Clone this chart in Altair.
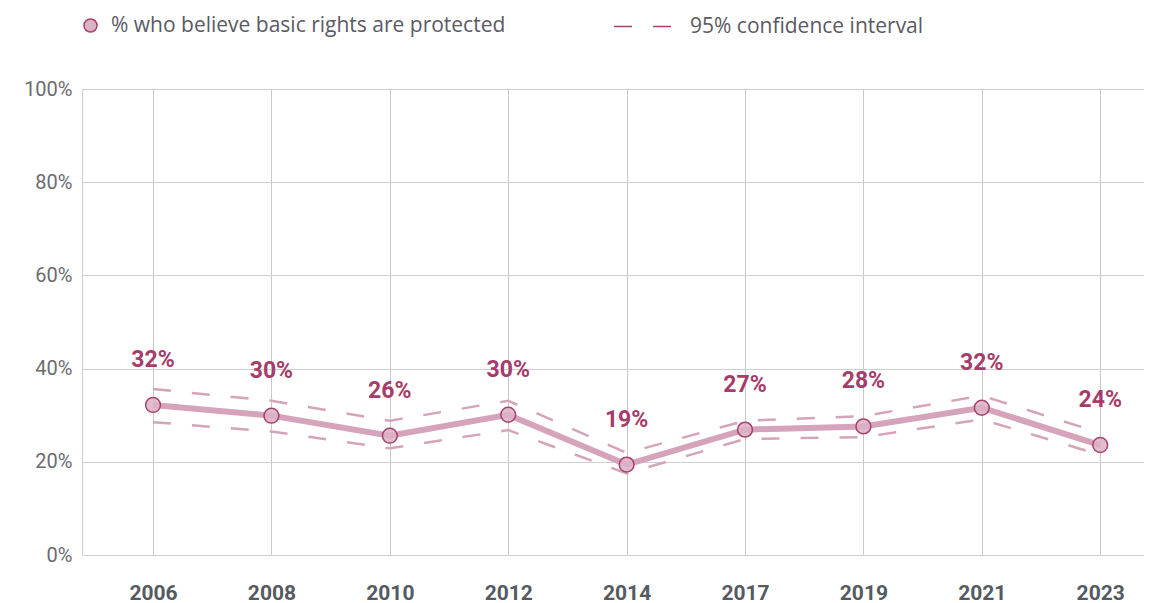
import json
import altair as alt
import pandas as pd

years = ["2006", "2008", "2010", "2012", "2014", "2017", "2019", "2021", "2023"]
share = [32.2, 29.9, 25.6, 30.1, 19.4, 26.9, 27.6, 31.6, 23.6]
ci_upper = [35.6, 33.1, 28.8, 33.1, 21.9, 28.8, 29.8, 34.2, 26.2]
ci_lower = [28.5, 26.5, 22.9, 26.8, 17.5, 24.9, 25.3, 29.1, 21.5]
y_ticks = [0, 20, 40, 60, 80, 100]

SERIES = "% who believe basic rights are protected"
CI = "95% confidence interval"

n = len(years)
main = pd.DataFrame({"idx": list(range(n)), "year": years, "value": share, "series": SERIES})
ci = pd.DataFrame({
    "idx": list(range(n)) * 2,
    "value": ci_upper + ci_lower,
    "bound": ["upper"] * n + ["lower"] * n,
    "series": CI,
})

FONT = "Roboto"
LEG_FONT = "Open Sans"
LINE_C = "#d5a3ba"
DARK_C = "#a8416f"

x_enc = alt.X(
    "idx:Q",
    scale=alt.Scale(domain=[-0.6, 8.37], nice=False, zero=False),
    axis=alt.Axis(
        values=list(range(n)),
        labelExpr=f"{json.dumps(years)}[datum.value]",
        title=None,
        grid=True,
        gridColor="#c8c8c8",
        domain=False,
        ticks=False,
        labelFont=FONT,
        labelFontSize=21,
        labelFontWeight="bold",
        labelColor="#555a62",
        labelPadding=27,
    ),
)
y_enc = alt.Y(
    "value:Q",
    scale=alt.Scale(domain=[0, 100], nice=False),
    axis=alt.Axis(
        values=y_ticks,
        labelExpr="datum.value + '%'",
        title=None,
        grid=True,
        gridColor="#cfcfcf",
        domain=True,
        domainColor="#cfcfcf",
        ticks=False,
        labelFont=FONT,
        labelFontSize=20,
        labelColor="#6b6b70",
        labelPadding=10,
    ),
)

ci_lines = alt.Chart(ci).mark_line(strokeWidth=2.5, color=LINE_C).encode(
    x=x_enc,
    y=y_enc,
    detail="bound:N",
    strokeDash=alt.StrokeDash(
        "series:N",
        scale=alt.Scale(domain=[CI], range=[[18, 21]]),
        legend=alt.Legend(
            title=None,
            orient="none",
            legendX=531,
            legendY=-93,
            symbolType="stroke",
            symbolSize=3481,
            symbolStrokeColor=DARK_C,
            symbolStrokeWidth=1.5,
            labelFont=LEG_FONT,
            labelFontSize=21,
            labelColor="#5a5a64",
            labelLimit=600,
            labelOffset=16,
        ),
    ),
)

line = alt.Chart(main).mark_line(strokeWidth=6, color=LINE_C).encode(x="idx:Q", y="value:Q")

points = alt.Chart(main).mark_point(
    shape="circle", filled=True, size=220, stroke=DARK_C, strokeWidth=1.5, fillOpacity=0.85
).encode(
    x="idx:Q",
    y="value:Q",
    fill=alt.Fill(
        "series:N",
        scale=alt.Scale(domain=[SERIES], range=["#dcb3c5"]),
        legend=alt.Legend(
            title=None,
            orient="none",
            legendX=-2,
            legendY=-74,
            symbolType="circle",
            symbolSize=170,
            symbolStrokeColor=DARK_C,
            symbolStrokeWidth=1.5,
            symbolFillColor="#cf94ad",
            labelFont=LEG_FONT,
            labelFontSize=21,
            labelColor="#5a5a64",
            labelLimit=600,
            labelOffset=10,
        ),
    ),
)

labels = alt.Chart(main).transform_calculate(
    label="format(datum.value, '.0f') + '%'"
).mark_text(dy=-45, font=FONT, fontSize=23, fontWeight="bold", color="#a63c6a").encode(
    x="idx:Q", y="value:Q", text="label:N"
)

chart = alt.layer(ci_lines, line, points, labels).resolve_legend(
    fill="independent", strokeDash="independent"
).properties(
    width=1062,
    height=466,
    autosize=alt.AutoSizeParams(type="none"),
    padding={"left": 74, "top": 81, "right": 0, "bottom": 48},
).configure_view(stroke=None).configure(background="white")

chart.save("out.html", embed_options={"renderer": "svg", "actions": False})
